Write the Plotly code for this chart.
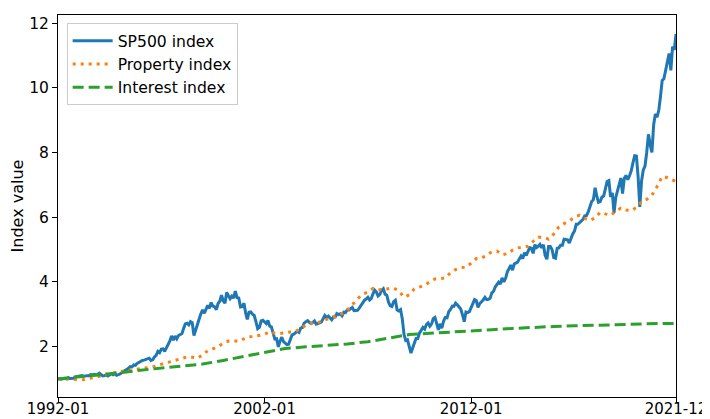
import pandas as pd
import plotly.graph_objects as go

# monthly S&P 500 index, relative to 1992-01
sp500 = [
    1.00, 1.01, 0.99, 1.01, 1.02, 1.00, 1.04, 1.01, 1.02, 1.02, 1.06, 1.07,
    1.07, 1.08, 1.10, 1.08, 1.10, 1.10, 1.10, 1.13, 1.12, 1.14, 1.13, 1.14,
    1.18, 1.14, 1.09, 1.10, 1.12, 1.09, 1.12, 1.16, 1.13, 1.16, 1.11, 1.12,
    1.15, 1.19, 1.22, 1.26, 1.30, 1.33, 1.38, 1.37, 1.43, 1.42, 1.48, 1.51,
    1.56, 1.57, 1.58, 1.60, 1.64, 1.64, 1.57, 1.59, 1.68, 1.73, 1.85, 1.81,
    1.92, 1.93, 1.85, 1.96, 2.08, 2.17, 2.33, 2.20, 2.32, 2.24, 2.34, 2.37,
    2.40, 2.57, 2.70, 2.72, 2.67, 2.77, 2.74, 2.34, 2.49, 2.69, 2.85, 3.01,
    3.13, 3.03, 3.15, 3.27, 3.18, 3.36, 3.25, 3.23, 3.14, 3.33, 3.40, 3.59,
    3.41, 3.34, 3.67, 3.55, 3.48, 3.56, 3.50, 3.71, 3.51, 3.50, 3.22, 3.23,
    3.34, 3.03, 2.84, 3.06, 3.07, 3.00, 2.96, 2.77, 2.55, 2.59, 2.79, 2.81,
    2.76, 2.71, 2.81, 2.63, 2.61, 2.42, 2.23, 2.24, 1.99, 2.17, 2.29, 2.15,
    2.09, 2.06, 2.07, 2.24, 2.36, 2.38, 2.42, 2.47, 2.44, 2.57, 2.59, 2.72,
    2.77, 2.80, 2.75, 2.71, 2.74, 2.79, 2.69, 2.70, 2.73, 2.76, 2.87, 2.96,
    2.89, 2.94, 2.89, 2.83, 2.91, 2.91, 3.02, 2.99, 3.01, 2.95, 3.06, 3.05,
    3.13, 3.13, 3.17, 3.21, 3.11, 3.11, 3.12, 3.19, 3.27, 3.37, 3.43, 3.47,
    3.52, 3.44, 3.48, 3.63, 3.74, 3.68, 3.56, 3.61, 3.74, 3.79, 3.62, 3.59,
    3.37, 3.26, 3.24, 3.39, 3.43, 3.13, 3.10, 3.14, 2.85, 2.37, 2.19, 2.21,
    2.02, 1.80, 1.95, 2.14, 2.25, 2.25, 2.42, 2.50, 2.59, 2.54, 2.68, 2.73,
    2.63, 2.70, 2.86, 2.90, 2.67, 2.52, 2.70, 2.57, 2.79, 2.90, 2.89, 3.08,
    3.15, 3.25, 3.24, 3.34, 3.29, 3.23, 3.16, 2.98, 2.77, 3.07, 3.05, 3.08,
    3.21, 3.34, 3.45, 3.42, 3.21, 3.33, 3.37, 3.44, 3.52, 3.45, 3.46, 3.49,
    3.66, 3.71, 3.84, 3.91, 3.99, 3.93, 4.12, 4.00, 4.11, 4.30, 4.42, 4.52,
    4.36, 4.55, 4.58, 4.61, 4.71, 4.80, 4.72, 4.90, 4.82, 4.94, 5.06, 5.04,
    4.88, 5.15, 5.06, 5.10, 5.16, 5.05, 5.15, 4.82, 4.70, 5.09, 5.09, 5.00,
    4.75, 4.73, 5.04, 5.05, 5.13, 5.13, 5.32, 5.31, 5.30, 5.20, 5.38, 5.48,
    5.57, 5.78, 5.78, 5.83, 5.90, 5.93, 6.04, 6.05, 6.16, 6.30, 6.48, 6.54,
    6.91, 6.64, 6.46, 6.48, 6.62, 6.65, 6.89, 7.10, 7.13, 6.63, 6.75, 6.13,
    6.61, 6.81, 6.93, 7.21, 6.73, 7.20, 7.29, 7.16, 7.28, 7.43, 7.68, 7.90,
    7.89, 7.23, 6.32, 7.12, 7.45, 7.58, 8.00, 8.56, 8.23, 8.00, 8.86, 9.19,
    9.09, 9.32, 9.72, 10.23, 10.28, 10.51, 10.75, 11.06, 10.54, 11.27, 11.17, 11.66,
]
months = pd.date_range("1992-01-01", "2021-12-01", freq="MS")

# property index, quarterly
property_dates = list(pd.date_range("1992-01-01", "2021-10-01", freq="QS-JAN")) + [pd.Timestamp("2021-12-01")]
property_idx = [
    1.00, 1.01, 1.00, 0.99, 0.96, 0.98, 1.01, 1.03,
    1.08, 1.14, 1.16, 1.18, 1.22, 1.25, 1.27, 1.29,
    1.30, 1.32, 1.36, 1.40, 1.46, 1.50, 1.54, 1.59,
    1.64, 1.68, 1.67, 1.64, 1.74, 1.87, 1.93, 2.00,
    2.10, 2.17, 2.18, 2.16, 2.24, 2.30, 2.31, 2.34,
    2.38, 2.46, 2.41, 2.40, 2.43, 2.45, 2.46, 2.56,
    2.66, 2.72, 2.72, 2.78, 2.84, 2.90, 2.95, 3.02,
    3.12, 3.30, 3.47, 3.62, 3.68, 3.80, 3.75, 3.77,
    3.80, 3.81, 3.72, 3.53, 3.60, 3.78, 3.84, 3.90,
    4.00, 4.09, 4.10, 4.12, 4.28, 4.38, 4.44, 4.45,
    4.58, 4.72, 4.73, 4.82, 4.93, 4.95, 4.84, 4.87,
    4.98, 5.05, 5.07, 5.10, 5.25, 5.38, 5.38, 5.32,
    5.48, 5.70, 5.80, 5.88, 6.00, 6.06, 5.96, 5.90,
    5.98, 6.15, 6.10, 6.06, 6.18, 6.28, 6.22, 6.20,
    6.30, 6.48, 6.55, 6.68, 6.95, 7.26, 7.22, 7.14,
    7.10,
]

# interest index, yearly
interest_dates = list(pd.date_range("1992-01-01", "2021-01-01", freq="YS")) + [pd.Timestamp("2021-12-01")]
interest_idx = [
    1.00, 1.06, 1.11, 1.19, 1.27, 1.33, 1.39, 1.46, 1.57, 1.69,
    1.82, 1.94, 1.99, 2.03, 2.08, 2.15, 2.26, 2.37, 2.41, 2.44,
    2.48, 2.52, 2.56, 2.60, 2.62, 2.64, 2.66, 2.69, 2.71, 2.71,
    2.71,
]

tick_dates = ["1992-01-01", "2002-01-01", "2012-01-01", "2021-12-01"]
tick_labels = ["1992-01", "2002-01", "2012-01", "2021-12"]

fig = go.Figure()
fig.add_trace(go.Scatter(x=months, y=sp500, mode="lines", name="SP500 index",
                         line=dict(color="#1f77b4", width=3)))
fig.add_trace(go.Scatter(x=property_dates, y=property_idx, mode="lines", name="Property index",
                         line=dict(color="#ff7f0e", width=3, dash="3px,5px")))
fig.add_trace(go.Scatter(x=interest_dates, y=interest_idx, mode="lines", name="Interest index",
                         line=dict(color="#2ca02c", width=3, dash="11px,5px")))

axis_style = dict(showline=True, linecolor="black", linewidth=1, mirror=True,
                  ticks="outside", ticklen=5, tickcolor="black", showgrid=False,
                  zeroline=False, automargin=False,
                  tickfont=dict(size=15.5, color="black"))

# page body has an 8px margin, so the figure is a bit smaller than the window
fig.update_layout(
    width=702, height=411,
    margin=dict(l=50, r=34, t=7, b=22),
    font=dict(family="DejaVu Sans", size=15.5, color="black"),
    plot_bgcolor="white",
    paper_bgcolor="white",
    showlegend=True,
    legend=dict(x=0.014, y=0.979, xanchor="left", yanchor="top", itemwidth=40,
                bgcolor="rgba(255,255,255,0.8)", bordercolor="#cccccc", borderwidth=1,
                font=dict(size=15.6)),
    xaxis=dict(axis_style, type="date", range=["1992-01-01", "2021-12-01"],
               tickmode="array", tickvals=tick_dates, ticktext=tick_labels,
               ticklabelstandoff=-7, tickfont=dict(size=15, color="black")),
    yaxis=dict(axis_style, range=[0.44, 12.25], tickmode="array",
               tickvals=[2, 4, 6, 8, 10, 12],
               title=dict(text="Index value", standoff=10, font=dict(size=16))),
)

fig.write_html("out.html")
